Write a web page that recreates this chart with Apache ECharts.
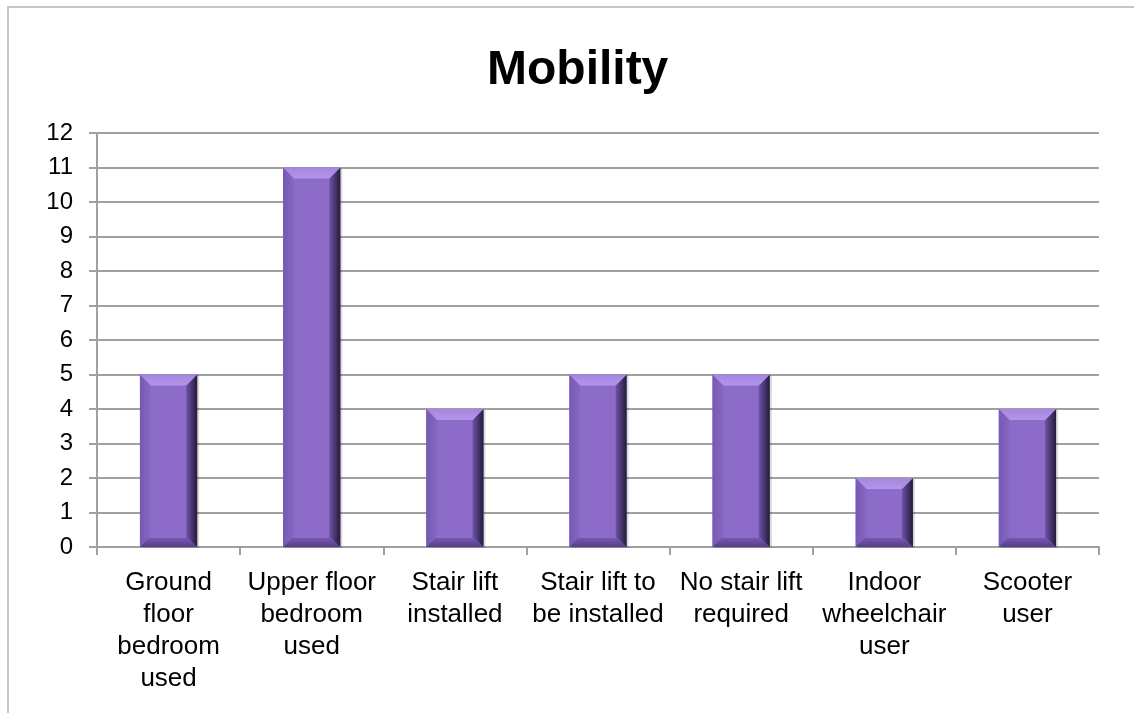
<!DOCTYPE html>
<html><head><meta charset="utf-8">
<script src="https://cdn.jsdelivr.net/npm/echarts@6/dist/echarts.min.js"></script>
<style>html,body{margin:0;padding:0;background:#fff}#c{width:1134px;height:713px}</style>
</head><body><div id="c"></div>
<script>
const categories = ["Ground\nfloor\nbedroom\nused","Upper floor\nbedroom\nused","Stair lift\ninstalled","Stair lift to\nbe installed","No stair lift\nrequired","Indoor\nwheelchair\nuser","Scooter\nuser"];
const values = [5, 11, 4, 5, 5, 2, 4];
const chart = echarts.init(document.getElementById('c'));
function renderBar(params, api){
  const idx = api.value(0);
  const top = api.coord([idx, api.value(1)]);
  const base = api.coord([idx, 0]);
  const bw = api.size([1,0])[0]*0.4;
  const x0 = top[0]-bw/2, x1 = top[0]+bw/2, y0 = top[1], y1 = base[1];
  const b = 11, bb = 9;
  return {type:'group',children:[
    {type:'rect',shape:{x:x0+2,y:y0+1,width:bw,height:y1-y0},style:{fill:'rgba(0,0,0,0.15)'}},
    {type:'rect',shape:{x:x0,y:y0,width:bw,height:y1-y0},style:{fill:'#8d6cc9'}},
    {type:'polygon',shape:{points:[[x0,y0],[x0+b,y0+b],[x0+b,y1-bb],[x0,y1]]},
      style:{fill:{type:'linear',x:0,y:0,x2:1,y2:0,colorStops:[{offset:0,color:'#7559b2'},{offset:1,color:'#8768c4'}]}}},
    {type:'polygon',shape:{points:[[x1,y0],[x1-b,y0+b],[x1-b,y1-bb],[x1,y1]]},
      style:{fill:{type:'linear',x:0,y:0,x2:1,y2:0,colorStops:[{offset:0,color:'#6f53a8'},{offset:1,color:'#241a3a'}]}}},
    {type:'polygon',shape:{points:[[x0,y0],[x1,y0],[x1-b,y0+b],[x0+b,y0+b]]},
      style:{fill:{type:'linear',x:0,y:0,x2:0,y2:1,colorStops:[{offset:0,color:'#a486dd'},{offset:1,color:'#b396ea'}]}}},
    {type:'polygon',shape:{points:[[x0,y1],[x1,y1],[x1-bb,y1-bb],[x0+bb,y1-bb]]},
      style:{fill:{type:'linear',x:0,y:0,x2:0,y2:1,colorStops:[{offset:0,color:'#7558b0'},{offset:1,color:'#563e8a'}]}}}
  ]};
}
chart.setOption({
  animation:false,
  graphic:[{type:'rect',shape:{x:8,y:7,width:1200,height:800},style:{fill:'none',stroke:'#c8c8c8',lineWidth:2},silent:true}],
  title:{text:'Mobility',left:482,top:42,textStyle:{fontFamily:'Liberation Sans, Arial',fontSize:48,fontWeight:'bold',color:'#000'}},
  grid:{left:97,right:35,top:133,bottom:166,containLabel:false},
  xAxis:{type:'category',data:categories,
    axisLine:{lineStyle:{color:'#a0a0a0',width:2}},
    axisTick:{show:true,length:8,lineStyle:{color:'#a0a0a0',width:2}},
    axisLabel:{interval:0,margin:20,fontFamily:'Liberation Sans, Arial',fontSize:26,color:'#000',lineHeight:32}},
  yAxis:{type:'value',min:0,max:12,interval:1,
    axisLine:{show:true,lineStyle:{color:'#a0a0a0',width:2}},
    axisTick:{show:true,length:8,lineStyle:{color:'#a0a0a0',width:2}},
    splitLine:{lineStyle:{color:'#a0a0a0',width:2}},
    axisLabel:{margin:24,fontFamily:'Liberation Sans, Arial',fontSize:24,color:'#000'}},
  series:[{type:'custom',renderItem:renderBar,encode:{x:0,y:1},
    data:values.map((v,i)=>[i,v])}]
});
</script></body></html>
